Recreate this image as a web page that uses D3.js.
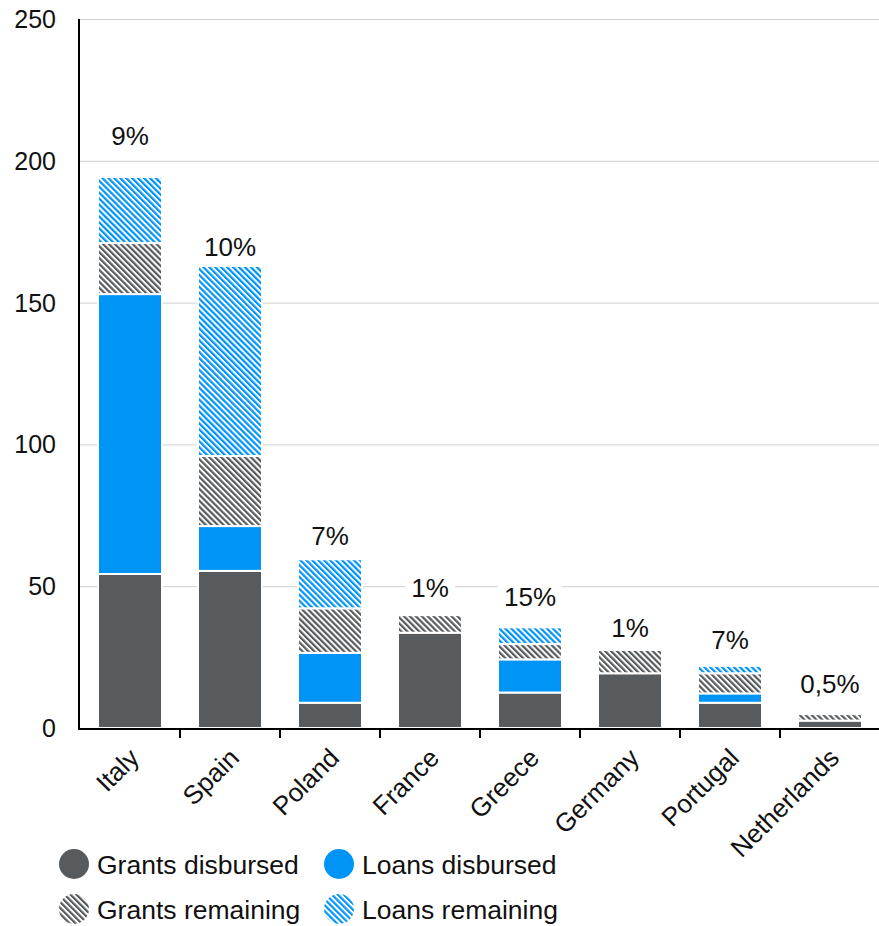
<!DOCTYPE html>
<html><head><meta charset="utf-8">
<script src="https://cdn.jsdelivr.net/npm/d3@7/dist/d3.min.js"></script>
<style>body{margin:0;background:#fff;font-family:"Liberation Sans",Arial,sans-serif;}</style>
</head><body><svg id="c" width="879" height="926"></svg>
<script>
const categories = ["Italy","Spain","Poland","France","Greece","Germany","Portugal","Netherlands"];
const grantsDisbursed = [54.3,55.4,8.9,33.6,12.5,19.3,8.9,2.6];
const loansDisbursed  = [98.7,15.8,17.6,0,11.7,0,3.3,0];
const grantsRemaining = [18.0,24.7,15.7,6.2,5.4,8.2,7.1,2.3];
const loansRemaining  = [23.3,67.0,17.3,0,5.9,0,2.6,0];
const pctLabels = ["9%","10%","7%","1%","15%","1%","7%","0,5%"];
const pctLabelValue = [209,169.6,68,49.4,46.2,35.3,31,15.5];
const yTicks = [0,50,100,150,200,250];
const seriesNames = ["Grants disbursed","Loans disbursed","Grants remaining","Loans remaining"];

const GRAY="#575b5e", BLUE="#0094f6";
const svg=d3.select("#c").style("font-family",'"Liberation Sans",Arial,sans-serif');
const defs=svg.append("defs");
function pat(id,color){
  const p=defs.append("pattern").attr("id",id).attr("patternUnits","userSpaceOnUse")
    .attr("width",4.2).attr("height",4.2).attr("patternTransform","rotate(-45)");
  p.append("rect").attr("width",4.2).attr("height",4.2).attr("fill","#fff");
  p.append("rect").attr("x",0).attr("width",2.2).attr("height",4.2).attr("fill",color);
}
pat("pg",GRAY); pat("pb",BLUE);

const m={l:79,r:879,t:19,b:728};
const x=d3.scaleBand().domain(categories).range([m.l+1,m.r+1]).paddingInner(0.36).paddingOuter(0.18);
const y=d3.scaleLinear().domain([0,250]).range([m.b,m.t]);

// grid
svg.append("g").selectAll("line").data(yTicks.filter(d=>d>0)).join("line")
  .attr("x1",m.l).attr("x2",m.r).attr("y1",d=>y(d)+0.5).attr("y2",d=>y(d)+0.5)
  .attr("stroke","#cfcfcf").attr("stroke-width",1);

// y axis labels
svg.append("g").selectAll("text").data(yTicks).join("text")
  .attr("x",56).attr("y",d=>y(d)).attr("dy","0.36em").attr("text-anchor","end")
  .attr("font-size",25).attr("fill","#111").text(d=>d);

// stacks
const rows=categories.map((c,i)=>({cat:c,gd:grantsDisbursed[i],ld:loansDisbursed[i],gr:grantsRemaining[i],lr:loansRemaining[i]}));
const keys=["gd","ld","gr","lr"];
const fills={gd:GRAY,ld:BLUE,gr:"url(#pg)",lr:"url(#pb)"};
const stack=d3.stack().keys(keys)(rows);
const g=svg.append("g");
stack.forEach(s=>{
  g.selectAll(null).data(s.filter(d=>d[1]-d[0]>0)).join("rect")
   .attr("x",d=>x(d.data.cat)).attr("width",x.bandwidth())
   .attr("y",d=>y(d[1])).attr("height",d=>y(d[0])-y(d[1]))
   .attr("fill",fills[s.key]).attr("stroke","#fff").attr("stroke-width",2);
});

// pct labels with white bg
const lg=svg.append("g");
categories.forEach((c,i)=>{
  const cx=x(c)+x.bandwidth()/2, cy=y(pctLabelValue[i]);
  const t=lg.append("text").attr("x",cx).attr("y",cy).attr("dy","0.36em").attr("text-anchor","middle")
    .attr("font-size",26).attr("fill","#111").text(pctLabels[i]);
  const bb=t.node().getBBox();
  lg.insert("rect","text").attr("x",bb.x-6).attr("y",bb.y-2).attr("width",bb.width+12).attr("height",bb.height+4).attr("fill","#fff");
});

// axes lines
svg.append("line").attr("x1",m.l).attr("x2",m.l).attr("y1",m.t).attr("y2",m.b+1).attr("stroke","#000").attr("stroke-width",2);
svg.append("line").attr("x1",m.l-1).attr("x2",m.r).attr("y1",m.b+1).attr("y2",m.b+1).attr("stroke","#000").attr("stroke-width",2);
const bounds=categories.map((c,i)=>m.l+1+i*x.step()).concat([m.l+1+categories.length*x.step()]);
svg.append("g").selectAll("line").data(bounds.slice(1)).join("line")
  .attr("x1",d=>d).attr("x2",d=>d).attr("y1",m.b).attr("y2",m.b+10).attr("stroke","#000").attr("stroke-width",2);

// x labels
svg.append("g").selectAll("text").data(categories).join("text")
  .attr("transform",c=>`translate(${x(c)+x.bandwidth()/2+4},${m.b+25}) rotate(-45)`)
  .attr("text-anchor","end").attr("dy","0.36em").attr("font-size",26).attr("fill","#111").text(d=>d);

// legend
const leg=[{n:seriesNames[0],f:GRAY,x:74,y:864},{n:seriesNames[1],f:BLUE,x:339,y:864},
           {n:seriesNames[2],f:"url(#pg)",x:74,y:909},{n:seriesNames[3],f:"url(#pb)",x:339,y:909}];
leg.forEach(d=>{
  svg.append("circle").attr("cx",d.x).attr("cy",d.y).attr("r",15).attr("fill",d.f);
  svg.append("text").attr("x",d.x+23).attr("y",d.y).attr("dy","0.36em").attr("font-size",26.5).attr("fill","#111").text(d.n);
});
</script></body></html>
